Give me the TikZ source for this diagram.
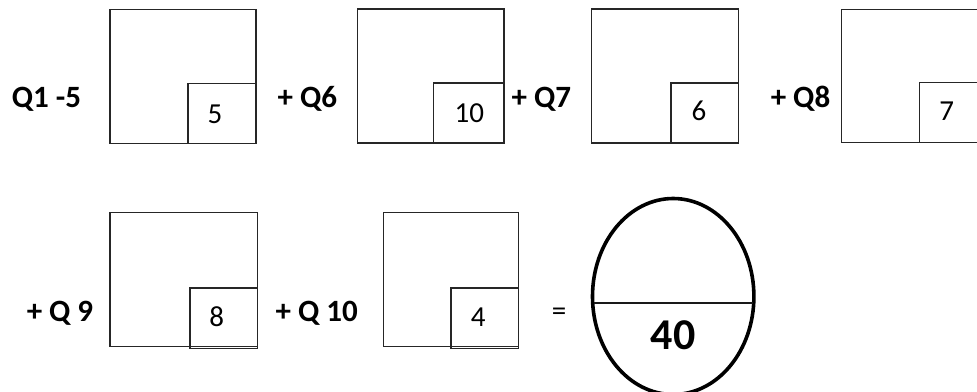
\documentclass[tikz,border=0pt]{standalone}
\usepackage{fontspec}
\setmainfont{Carlito}
\begin{document}
\begin{tikzpicture}[x=1pt,y=-1pt,
  box/.style={draw=black!85, line width=1.1pt, inner sep=0pt, outer sep=0pt, fill=none},
  outerbox/.style={box, anchor=north west, minimum width=146pt, minimum height=134pt},
  innerbox/.style={box, anchor=south east, minimum width=68pt, minimum height=60pt},
  lab/.style={font=\fontsize{31}{31}\selectfont\bfseries, anchor=base, inner sep=0pt},
  num/.style={font=\fontsize{29}{29}\selectfont, anchor=base, inner sep=0pt}]
\useasboundingbox (0,0) rectangle (977,391);
\clip (0,0) rectangle (977,391);

% row 1
\node[lab] (l1) at (46.5,107.3) {Q1 -5};
\node[outerbox] (o1) at (110,9.5) {};
\node[innerbox] (i1) at (o1.south east) {};
\node[num] (n1) at (215,123.3) {5};

\node[lab] (l2) at (307.3,107.3) {+ Q6};
\node[outerbox, minimum width=146.3pt] (o2) at (357.7,9) {};
\node[innerbox, minimum width=70.3pt] (i2) at (o2.south east) {};
\node[num] (n2) at (469.3,122.7) {10};

\node[lab] (l3) at (541.3,107) {+ Q7};
\node[outerbox, minimum width=146.6pt] (o3) at (591.7,9) {};
\node[innerbox, minimum width=67.3pt] (i3) at (o3.south east) {};
\node[num] (n3) at (699,120.7) {6};

\node[lab] (l4) at (800.5,107) {+ Q8};
\node[outerbox, minimum height=133.4pt] (o4) at (841.7,9.3) {};
\node[innerbox] (i4) at (o4.south east) {};
\node[num] (n4) at (946.7,120.7) {7};

% row 2
\node[lab] (l5) at (60,321.7) {+ Q 9};
\node[outerbox, minimum width=147.7pt] (o5) at (110,212.7) {};
\node[innerbox, minimum width=67.7pt, minimum height=60.5pt, anchor=north east] (i5) at ([yshift=-75.3pt]o5.north east) {};
\node[num] (n5) at (216.7,326.7) {8};

\node[lab] (l6) at (316.7,321.7) {+ Q 10};
\node[outerbox, minimum width=134.6pt] (o6) at (383.7,212.7) {};
\node[innerbox, minimum width=67.3pt, minimum height=60.5pt, anchor=north east] (i6) at ([yshift=-75.3pt]o6.north east) {};
\node[num] (n6) at (478.3,326.7) {4};

\node[num, anchor=center] (eq) at (559,314) {=};

% result ellipse
\coordinate (rc) at (673.2,296.5);
\draw[line width=3.6pt, black] (rc) ellipse [x radius=80.7pt, y radius=98pt];
\coordinate (hl) at (594,303.3);
\coordinate (hr) at (752.5,303.3);
\draw[line width=2pt, black!90] (hl) -- (hr);
\node[font=\fontsize{44}{44}\selectfont\bfseries, anchor=base, inner sep=0pt] (res) at (673,349.3) {40};
\end{tikzpicture}
\end{document}
